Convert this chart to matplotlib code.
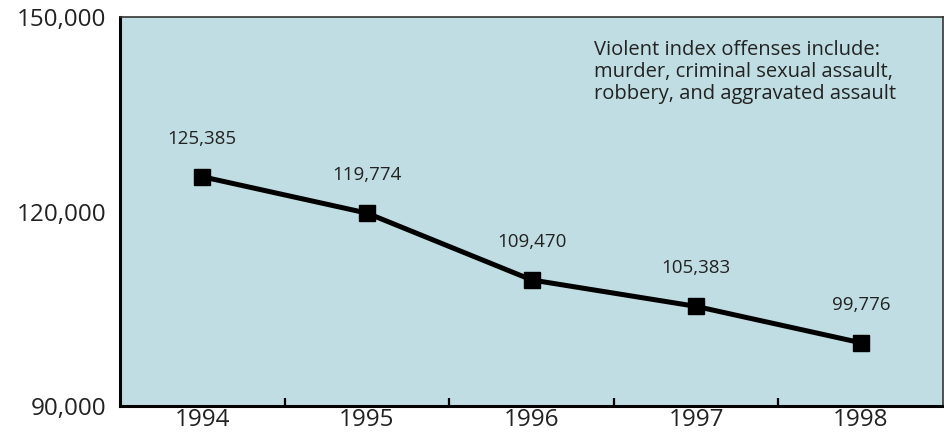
import matplotlib.pyplot as plt
import numpy as np

# data
years = ['1994', '1995', '1996', '1997', '1998']
offenses = [125385, 119774, 109470, 105383, 99776]
y_ticks = [90000, 120000, 150000]
note = ('Violent index offenses include:\n'
        'murder, criminal sexual assault,\n'
        'robbery, and aggravated assault')

plt.rcParams['font.family'] = ['Open Sans', 'DejaVu Sans']

fig = plt.figure(figsize=(9.45, 4.4), dpi=100)
ax = fig.add_axes([0.127, 0.077, 0.871, 0.884])
ax.set_facecolor('#bfdde2')

x = np.arange(len(years))
ax.plot(x, offenses, color='black', lw=3.6, marker='s', ms=11.5, zorder=3)

# value labels
for xi, v in zip(x, offenses):
    ax.annotate(f'{v:,}', (xi, v), xytext=(0, 21), textcoords='offset points',
                ha='center', va='bottom', fontsize=13.5, color='#222222')

ax.text(0.576, 0.94, note, transform=ax.transAxes, ha='left', va='top',
        fontsize=14.5, color='#222222', linespacing=1.12)

ax.set_xlim(-0.5, len(years) - 0.5)
ax.set_ylim(90000, 150000)
ax.set_yticks(y_ticks)
ax.set_yticklabels([f'{t:,}' for t in y_ticks], fontsize=17.5, color='#222222')
ax.tick_params(axis='y', length=0, pad=10)

ax.set_xticks(x)
ax.set_xticklabels(years, fontsize=17.5, color='#222222')
ax.tick_params(axis='x', which='major', length=0, pad=1)
ax.set_xticks(np.arange(0.5, len(years) - 1, 1), minor=True)
ax.tick_params(axis='x', which='minor', direction='in', length=6, width=1.6,
               color='black')

for side in ['left', 'bottom']:
    ax.spines[side].set_linewidth(2.2)
    ax.spines[side].set_color('black')
for side in ['top', 'right']:
    ax.spines[side].set_linewidth(1.2)
    ax.spines[side].set_color('#333333')

fig.savefig('out.png', dpi=100)
